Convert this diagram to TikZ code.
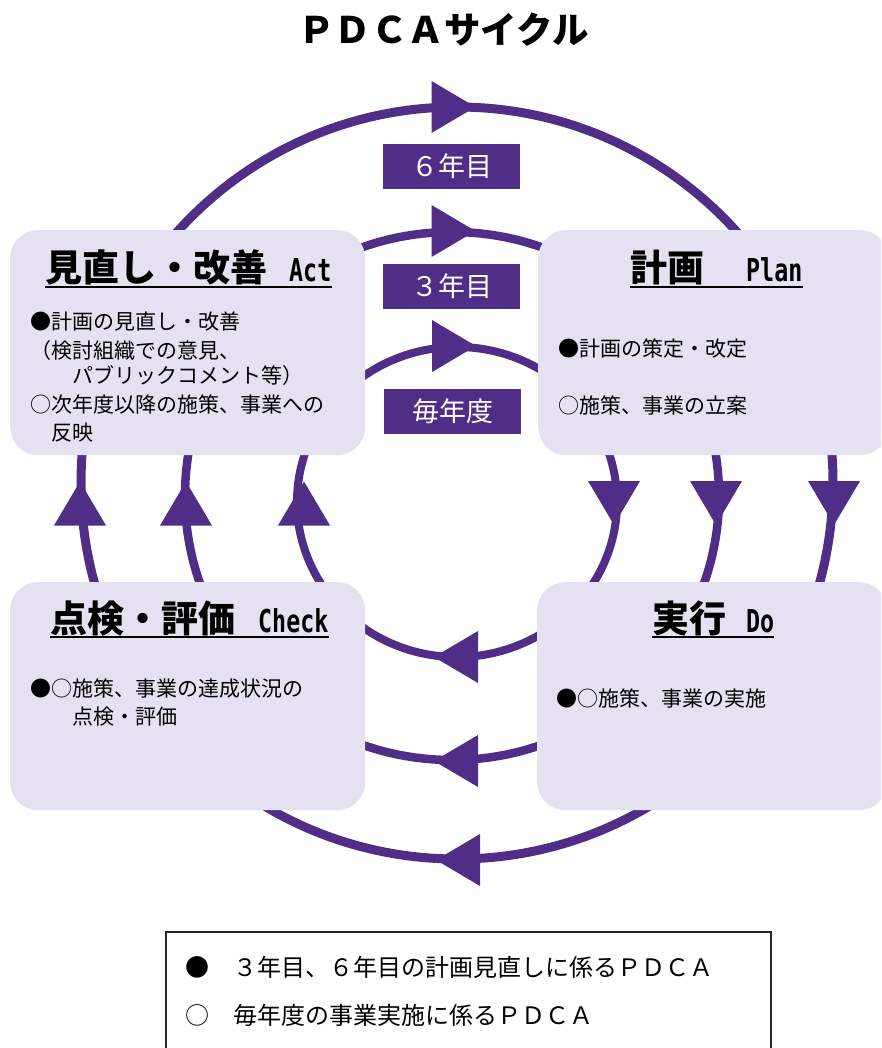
\documentclass[tikz,border=0pt]{standalone}
\usepackage{fontspec}
\usepackage{graphicx}
\usetikzlibrary{calc}
\newfontfamily\jp{Noto Sans CJK JP}
\newfontfamily\mono{DejaVu Sans Mono}
\definecolor{pp}{RGB}{80,46,135}
\definecolor{lav}{RGB}{229,225,241}
\newcommand\fs[1]{\fontsize{#1}{#1}\selectfont}
\newcommand\lat[1]{{\mono\fs{31.5}\scalebox{0.74}[1]{#1}}}
\begin{document}
\begin{tikzpicture}[x=1pt,y=-1pt,
  ring/.style={draw=pp},
  ahead/.pic={\fill[pp] (-22,-26) -- (22,0) -- (-22,26) -- cycle;},
  card/.style={fill=lav, rounded corners=28pt, inner sep=0pt, anchor=north west},
  hdr/.style={inner sep=0pt, anchor=base west, font=\jp\bfseries\fs{37}},
  body/.style={inner sep=0pt, anchor=base west, font=\jp\fs{21}},
  legtext/.style={inner sep=0pt, anchor=base west, font=\jp\fs{24}},
  tag/.style={fill=pp, text=white, inner sep=0pt, minimum width=137pt, minimum height=45pt, font=\jp\fs{27}},
  uline/.style={line width=2pt}
]
\useasboundingbox (0,0) rectangle (881,1048);
\clip (0,0) rectangle (881,1048);

% rings
\draw[ring, line width=9pt] (457,483) ellipse [x radius=376pt, y radius=376pt];
\draw[ring, line width=8.5pt] (452,496) ellipse [x radius=267pt, y radius=264pt];
\draw[ring, line width=8pt] (457,502) ellipse [x radius=160pt, y radius=155pt];

% arrowheads
\pic at (453.5,107) {ahead};
\pic at (453.5,231) {ahead};
\pic at (454,346) {ahead};
\pic[rotate=180] at (456,657) {ahead};
\pic[rotate=180] at (456,761) {ahead};
\pic[rotate=180] at (458,860) {ahead};
\pic[rotate=90] at (80,503.5) {ahead};
\pic[rotate=90] at (186,503.5) {ahead};
\pic[rotate=90] at (304,503.5) {ahead};
\pic[rotate=-90] at (614,503) {ahead};
\pic[rotate=-90] at (716,503) {ahead};
\pic[rotate=-90] at (834,503) {ahead};

% cards
\node[card, minimum width=355pt, minimum height=225pt] (act) at (10,230) {};
\node[card, minimum width=350pt, minimum height=225pt] (plan) at (538,230) {};
\node[card, minimum width=355pt, minimum height=228pt] (check) at (10,582) {};
\node[card, minimum width=350pt, minimum height=228pt] (do) at (537,582) {};

% headers
\node[hdr] (acth) at (45,282) {見直し・改善\hspace{22pt}\lat{Act}};
\node[hdr] (planh) at (630,282) {計画\hspace{42pt}\lat{Plan}};
\node[hdr] (checkh) at (50,632) {点検・評価\hspace{23pt}\lat{Check}};
\node[hdr] (doh) at (652,632) {実行\hspace{20pt}\lat{Do}};
\foreach \h in {acth,planh,checkh,doh}
  \draw[uline] ($(\h.base west)+(0,5)$) -- ($(\h.base east)+(0,5)$);

% body texts
\node[body] (a1) at (30,329) {●計画の見直し・改善};
\node[body] (a2) at (30,358) {（検討組織での意見、};
\node[body] (a3) at (30,383) {　　パブリックコメント等）};
\node[body] (a4) at (30,412) {○次年度以降の施策、事業への};
\node[body] (a5) at (30,440) {　反映};
\node[body] (p1) at (558,356) {●計画の策定・改定};
\node[body] (p2) at (558,413) {○施策、事業の立案};
\node[body] (c1) at (30,696) {●○施策、事業の達成状況の};
\node[body] (c2) at (30,724) {　　点検・評価};
\node[body] (d1) at (556,706) {●○施策、事業の実施};

% tags
\node[tag] (t6) at (451.5,166.5) {６年目};
\node[tag] (t3) at (451.5,286.5) {３年目};
\node[tag] (t1) at (452.5,411.5) {毎年度};

% legend
\draw[line width=1.5pt, draw=black!85] (166,932) rectangle (771,1070);
\node[legtext] (l1) at (185,976) {●　３年目、６年目の計画見直しに係るＰＤＣＡ};
\node[legtext] (l2) at (185,1024) {○　毎年度の事業実施に係るＰＤＣＡ};

% title
\node[inner sep=0pt, font=\jp\bfseries\fs{36.5}] (title) at (443.5,30) {ＰＤＣＡサイクル};
\end{tikzpicture}
\end{document}
